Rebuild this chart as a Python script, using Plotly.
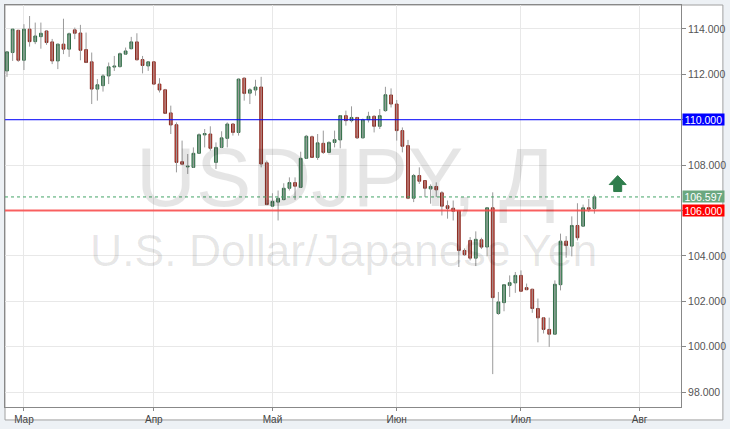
import plotly.graph_objects as go
import pandas as pd

# ---- data (USD/JPY daily candles) ----
dates = (pd.bdate_range("2016-02-25", periods=105) + pd.Timedelta(hours=12)).strftime("%Y-%m-%d %H:%M").tolist()

opens = [112.15, 112.96, 113.94, 112.62, 113.99, 113.44, 113.66, 113.91, 113.43, 112.59,
         113.33, 113.11, 113.96, 113.82, 113.09, 112.55, 111.35, 111.50, 111.93, 112.32,
         112.34, 112.89, 113.13, 113.43, 112.65, 112.37, 112.55, 111.57, 111.32, 110.30,
         109.78, 108.15, 107.92, 107.90, 108.52, 109.33, 109.37, 108.12, 108.78, 109.18,
         109.81, 109.44, 111.83, 111.17, 111.31, 111.44, 108.10, 106.19, 106.37, 106.48,
         106.98, 107.23, 107.02, 108.30, 109.25, 108.34, 108.96, 108.56, 109.00, 109.11,
         110.18, 109.96, 110.10, 109.20, 110.00, 110.15, 109.71, 110.40, 111.09, 110.69,
         109.52, 108.86, 106.54, 107.54, 107.32, 106.95, 107.06, 106.78, 106.21, 106.10,
         106.00, 104.24, 104.68, 103.90, 104.71, 104.39, 106.12, 101.46, 101.94, 102.70,
         102.81, 103.14, 102.60, 102.53, 101.68, 101.27, 100.76, 100.55, 102.73, 104.65,
         104.43, 105.34, 105.31, 106.12, 106.09]
highs = [113.03, 113.99, 113.96, 114.21, 114.57, 114.28, 114.28, 113.95, 113.56, 113.35,
         114.45, 113.84, 114.06, 114.18, 113.84, 112.96, 111.79, 112.01, 112.52, 112.81,
         112.96, 113.18, 113.65, 113.81, 112.81, 112.57, 112.57, 111.83, 111.36, 110.62,
         109.88, 109.08, 108.49, 108.78, 109.40, 109.59, 109.71, 109.00, 109.49, 109.88,
         109.85, 111.82, 111.87, 111.39, 111.76, 111.89, 108.20, 106.76, 106.88, 107.20,
         107.46, 107.46, 108.59, 109.33, 109.30, 109.37, 109.52, 109.05, 109.52, 110.20,
         110.40, 110.59, 110.12, 110.05, 110.35, 110.20, 110.47, 111.45, 111.38, 110.87,
         109.66, 109.11, 107.61, 107.90, 107.33, 107.15, 107.24, 106.85, 106.44, 106.44,
         106.02, 104.33, 104.83, 105.08, 104.80, 106.15, 106.80, 102.41, 102.76, 103.14,
         103.29, 103.36, 102.78, 102.55, 102.12, 101.30, 101.28, 102.92, 104.98, 104.87,
         105.74, 106.32, 106.26, 106.51, 106.70]
lows = [111.89, 112.59, 112.55, 112.19, 113.22, 113.33, 113.13, 113.30, 112.45, 112.23,
        112.89, 112.77, 113.55, 112.62, 112.50, 110.69, 110.84, 111.24, 111.57, 112.15,
        112.30, 112.86, 113.10, 112.62, 112.04, 112.15, 111.55, 111.20, 110.26, 109.37,
        107.68, 108.00, 107.61, 107.88, 108.50, 108.78, 108.64, 107.83, 108.75, 108.78,
        109.30, 109.30, 110.84, 110.69, 111.06, 107.90, 106.24, 106.17, 105.56, 106.45,
        106.88, 106.47, 107.00, 108.28, 108.33, 108.23, 108.49, 108.54, 108.78, 108.74,
        109.74, 109.88, 109.15, 109.18, 109.88, 109.44, 109.59, 110.35, 110.54, 109.08,
        108.56, 106.50, 106.37, 107.17, 106.59, 106.30, 106.59, 105.78, 105.64, 105.56,
        103.51, 104.00, 103.80, 103.55, 104.30, 103.98, 98.79, 101.40, 101.56, 102.19,
        102.37, 102.42, 102.49, 101.49, 100.19, 100.58, 99.99, 100.52, 102.48, 103.92,
        103.98, 104.68, 105.28, 105.93, 105.86]
closes = [112.99, 113.99, 112.62, 113.99, 113.44, 113.69, 113.81, 113.40, 112.59, 113.33,
          113.11, 113.79, 113.81, 113.06, 112.52, 111.35, 111.54, 111.93, 112.33, 112.36,
          112.91, 113.03, 113.43, 112.64, 112.39, 112.55, 111.57, 111.31, 110.28, 109.77,
          108.12, 108.04, 107.95, 108.52, 109.34, 109.39, 108.74, 108.78, 109.20, 109.81,
          109.44, 111.79, 111.16, 111.32, 111.44, 108.05, 106.26, 106.40, 106.54, 106.98,
          107.23, 107.07, 108.30, 109.27, 108.34, 108.98, 108.56, 109.00, 109.12, 110.18,
          109.96, 110.10, 109.20, 110.00, 110.15, 109.71, 110.18, 111.10, 110.69, 109.52,
          108.83, 106.54, 107.54, 107.29, 106.98, 107.06, 106.91, 106.19, 106.09, 105.97,
          104.24, 104.05, 103.90, 104.73, 104.39, 106.12, 102.16, 101.97, 102.73, 102.82,
          103.14, 102.44, 102.51, 101.68, 101.27, 100.76, 100.55, 102.75, 104.65, 104.46,
          105.34, 104.80, 106.12, 106.06, 106.597]

month_ticks = ["2016-03-01 12:00", "2016-04-01 12:00", "2016-05-02 12:00",
               "2016-06-01 12:00", "2016-07-01 12:00", "2016-08-01 12:00"]
month_labels = ["Мар", "Апр", "Май", "Июн", "Июл", "Авг"]
y_ticks = [98, 100, 102, 104, 106, 108, 110, 112, 114]

resistance = 110.0
support = 106.0
last_price = 106.597

title_text = "USDJPY, Д"
subtitle_text = "U.S. Dollar/Japanese Yen"

# ---- figure ----
W, H = 730, 429
ML, MR, MT, MB = 5, 47, 4, 22
PW, PH = W - ML - MR, H - MT - MB
FONT = "Arial, Liberation Sans, sans-serif"


def px(x):
    return (x - ML) / PW


def py(y):
    return (H - MB - y) / PH


fig = go.Figure()

# wicks (grey)
wx, wy = [], []
for d, lo, hi in zip(dates, lows, highs):
    wx += [d, d, None]
    wy += [lo, hi, None]
fig.add_trace(go.Scatter(x=wx, y=wy, mode="lines",
                         line=dict(color="#9a9a9a", width=1),
                         hoverinfo="skip", showlegend=False))

# bodies
body_hi = [max(o, c) for o, c in zip(opens, closes)]
body_lo = [min(o, c) for o, c in zip(opens, closes)]
fig.add_trace(go.Candlestick(
    x=dates, open=opens, high=body_hi, low=body_lo, close=closes,
    increasing=dict(fillcolor="#63a47b", line=dict(color="#2e6a44", width=1)),
    decreasing=dict(fillcolor="#d8463a", line=dict(color="#8a2a20", width=1)),
    whiskerwidth=0, hoverinfo="skip", showlegend=False))

shapes = [
    # white chart frame
    dict(type="rect", xref="paper", yref="paper", x0=px(5), x1=px(725), y0=py(420), y1=py(4),
         fillcolor="white", line=dict(color="#a0a0a0", width=1), layer="below"),
    dict(type="line", xref="paper", yref="y", x0=0, x1=1, y0=resistance, y1=resistance,
         line=dict(color="#0000ff", width=1)),
    dict(type="line", xref="paper", yref="y", x0=0, x1=1, y0=support, y1=support,
         line=dict(color="rgba(250,70,70,0.85)", width=2)),
    dict(type="line", xref="paper", yref="y", x0=0, x1=1, y0=last_price, y1=last_price,
         line=dict(color="#45a468", width=1, dash="dot")),
]
# green up arrow
arrow_pts = [(619.5, 175), (628, 184), (623.5, 184), (623.5, 191), (615.5, 191), (615.5, 184), (611, 184)]
path = "M " + " L ".join(f"{px(a):.5f},{py(b):.5f}" for a, b in arrow_pts) + " Z"
shapes.append(dict(type="path", xref="paper", yref="paper", path=path,
                   fillcolor="#2f7d4c", line=dict(color="#2f7d4c", width=1)))

annotations = [
    dict(xref="paper", yref="paper", x=px(347), y=py(177), text=title_text, showarrow=False,
         font=dict(family=FONT, size=83, color="rgba(0,0,0,0.10)"),
         xanchor="center", yanchor="middle"),
    dict(xref="paper", yref="paper", x=px(345), y=py(250), text=subtitle_text, showarrow=False,
         font=dict(family=FONT, size=44.5, color="rgba(0,0,0,0.10)"),
         xanchor="center", yanchor="middle"),
]
for val, txt, bg in [(resistance, f"{resistance:.3f}", "#0000ff"),
                     (last_price, f"{last_price:.3f}", "#6aa77f"),
                     (support, f"{support:.3f}", "#ff0000")]:
    annotations.append(dict(xref="paper", yref="y", x=1, y=val, xanchor="left", yanchor="middle",
                            xshift=1, text=txt, showarrow=False, bgcolor=bg, width=41, height=11,
                            borderpad=0, align="center",
                            font=dict(family=FONT, size=10.5, color="white")))

# tick labels hidden where a price box sits on the axis
y_ticktext = ["" if v in (resistance, support) else f"{v:.3f}" for v in y_ticks]

fig.update_layout(
    width=W, height=H, autosize=False,
    margin=dict(l=ML, r=MR, t=MT, b=MB),
    paper_bgcolor="#edf1f5", plot_bgcolor="rgba(0,0,0,0)",
    showlegend=False, hovermode=False, dragmode=False,
    shapes=shapes, annotations=annotations,
    xaxis=dict(
        type="date",
        range=["2016-02-25 03:32", "2016-08-10 20:00"],
        rangebreaks=[dict(bounds=["sat", "mon"])],
        rangeslider=dict(visible=False),
        tickmode="array", tickvals=month_ticks, ticktext=month_labels,
        ticks="outside", ticklen=3, tickcolor="#888",
        showgrid=True, gridcolor="#e8e8e8", gridwidth=1,
        showline=True, linecolor="#888", linewidth=1, mirror=True,
        tickfont=dict(family=FONT, size=10, color="#444"),
        fixedrange=True, zeroline=False,
    ),
    yaxis=dict(
        side="right",
        range=[97.341, 115.055],
        tickmode="array", tickvals=y_ticks, ticktext=y_ticktext,
        ticks="outside", ticklen=4, tickcolor="#888",
        showgrid=True, gridcolor="#e8e8e8", gridwidth=1,
        showline=True, linecolor="#888", linewidth=1, mirror=True,
        tickfont=dict(family=FONT, size=10.5, color="#555"),
        fixedrange=True, zeroline=False,
    ),
)

fig.write_html("out.html", config=dict(displayModeBar=False, staticPlot=True),
               post_script="document.body.style.margin='0px';document.body.style.background='#edf1f5';")
